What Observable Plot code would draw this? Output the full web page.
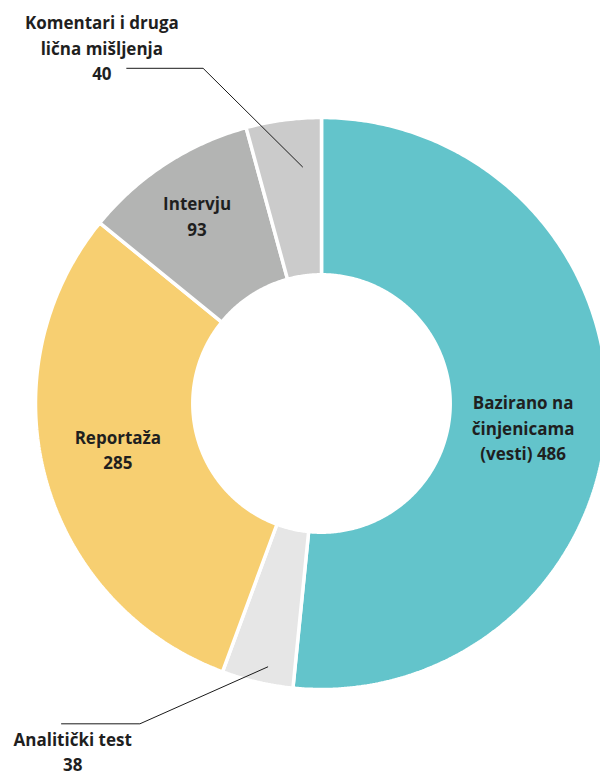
<!DOCTYPE html>
<html>
<head>
<meta charset="utf-8">
<script src="https://cdn.jsdelivr.net/npm/d3@7"></script>
<script src="https://cdn.jsdelivr.net/npm/@observablehq/plot@0.6"></script>
<style>
  html, body { margin: 0; padding: 0; background: #fff; }
  #chart svg { display: block; }
</style>
</head>
<body>
<div id="chart"></div>
<script>
// ---- data ----
const categories = ["Bazirano na činjenicama (vesti)", "Analitički test", "Reportaža", "Intervju", "Komentari i druga lična mišljenja"];
const values = [486, 38, 285, 93, 40];
const labelTexts = [
  "Bazirano na\nčinjenicama\n(vesti) 486",
  "Analitički test\n38",
  "Reportaža\n285",
  "Intervju\n93",
  "Komentari i druga\nlična mišljenja\n40"
];
const colors = ["#63c4cb", "#e6e6e6", "#f7cf71", "#b3b4b3", "#cbcbcb"];

// ---- layout ----
const W = 600, H = 778;
const cx = 321, cy = 403, R = 286;
const innerRatio = 0.45;
// label anchors (unit-radius coordinates) and leader lines
const labelLayout = [
  {x: 0.705, y: -0.08, leader: null},
  {x: -0.87, y: -1.213, leader: {t: 0.40, r: 0.94, knee: [-0.635, -1.12], end: [-0.909, -1.12]}},
  {x: -0.712, y: -0.157, leader: null},
  {x: -0.435, y: 0.66, leader: null},
  {x: -0.768, y: 1.248, leader: {t: 0.70, r: 0.83, knee: [-0.414, 1.172], end: [-0.681, 1.172]}}
];

const pie = d3.pie().sort(null).value(d => d)(values);

// slice polygons in unit coordinates (angle 0 at top, clockwise)
const polyPoints = [];
pie.forEach((p, i) => {
  const n = Math.max(8, Math.ceil((p.endAngle - p.startAngle) / 0.01));
  const pts = [];
  for (let k = 0; k <= n; k++) {
    const a = p.startAngle + (p.endAngle - p.startAngle) * k / n;
    pts.push([Math.sin(a), Math.cos(a)]);
  }
  for (let k = n; k >= 0; k--) {
    const a = p.startAngle + (p.endAngle - p.startAngle) * k / n;
    pts.push([innerRatio * Math.sin(a), innerRatio * Math.cos(a)]);
  }
  pts.forEach(([x, y]) => polyPoints.push({x, y, cat: categories[i]}));
});

const labels = categories.map((c, i) => ({cat: c, text: labelTexts[i], x: labelLayout[i].x, y: labelLayout[i].y}));

const leaderPoints = [];
pie.forEach((p, i) => {
  const L = labelLayout[i].leader;
  if (!L) return;
  const a = p.startAngle + (p.endAngle - p.startAngle) * L.t;
  leaderPoints.push({cat: categories[i], x: L.r * Math.sin(a), y: L.r * Math.cos(a)});
  leaderPoints.push({cat: categories[i], x: L.knee[0], y: L.knee[1]});
  leaderPoints.push({cat: categories[i], x: L.end[0], y: L.end[1]});
});

const chart = Plot.plot({
  width: W,
  height: H,
  margin: 0,
  style: {background: "#fff", fontFamily: "'Open Sans', Lato, sans-serif"},
  x: {domain: [-1, 1], range: [cx - R, cx + R], axis: null},
  y: {domain: [-1, 1], range: [cy + R, cy - R], axis: null},
  color: {domain: categories, range: colors},
  marks: [
    Plot.line(polyPoints, {
      x: "x", y: "y", z: "cat", fill: "cat",
      stroke: "white", strokeWidth: 3.5, strokeLinejoin: "miter",
      curve: "linear-closed"
    }),
    Plot.line(leaderPoints, {x: "x", y: "y", z: "cat", stroke: "#1a1a1a", strokeWidth: 1}),
    Plot.text(labels, {
      x: "x", y: "y", text: "text",
      fontSize: 17, fontWeight: 700, fill: "#1f1f1f",
      lineHeight: 1.5, textAnchor: "middle"
    })
  ]
});
document.getElementById("chart").appendChild(chart);
</script>
</body>
</html>
